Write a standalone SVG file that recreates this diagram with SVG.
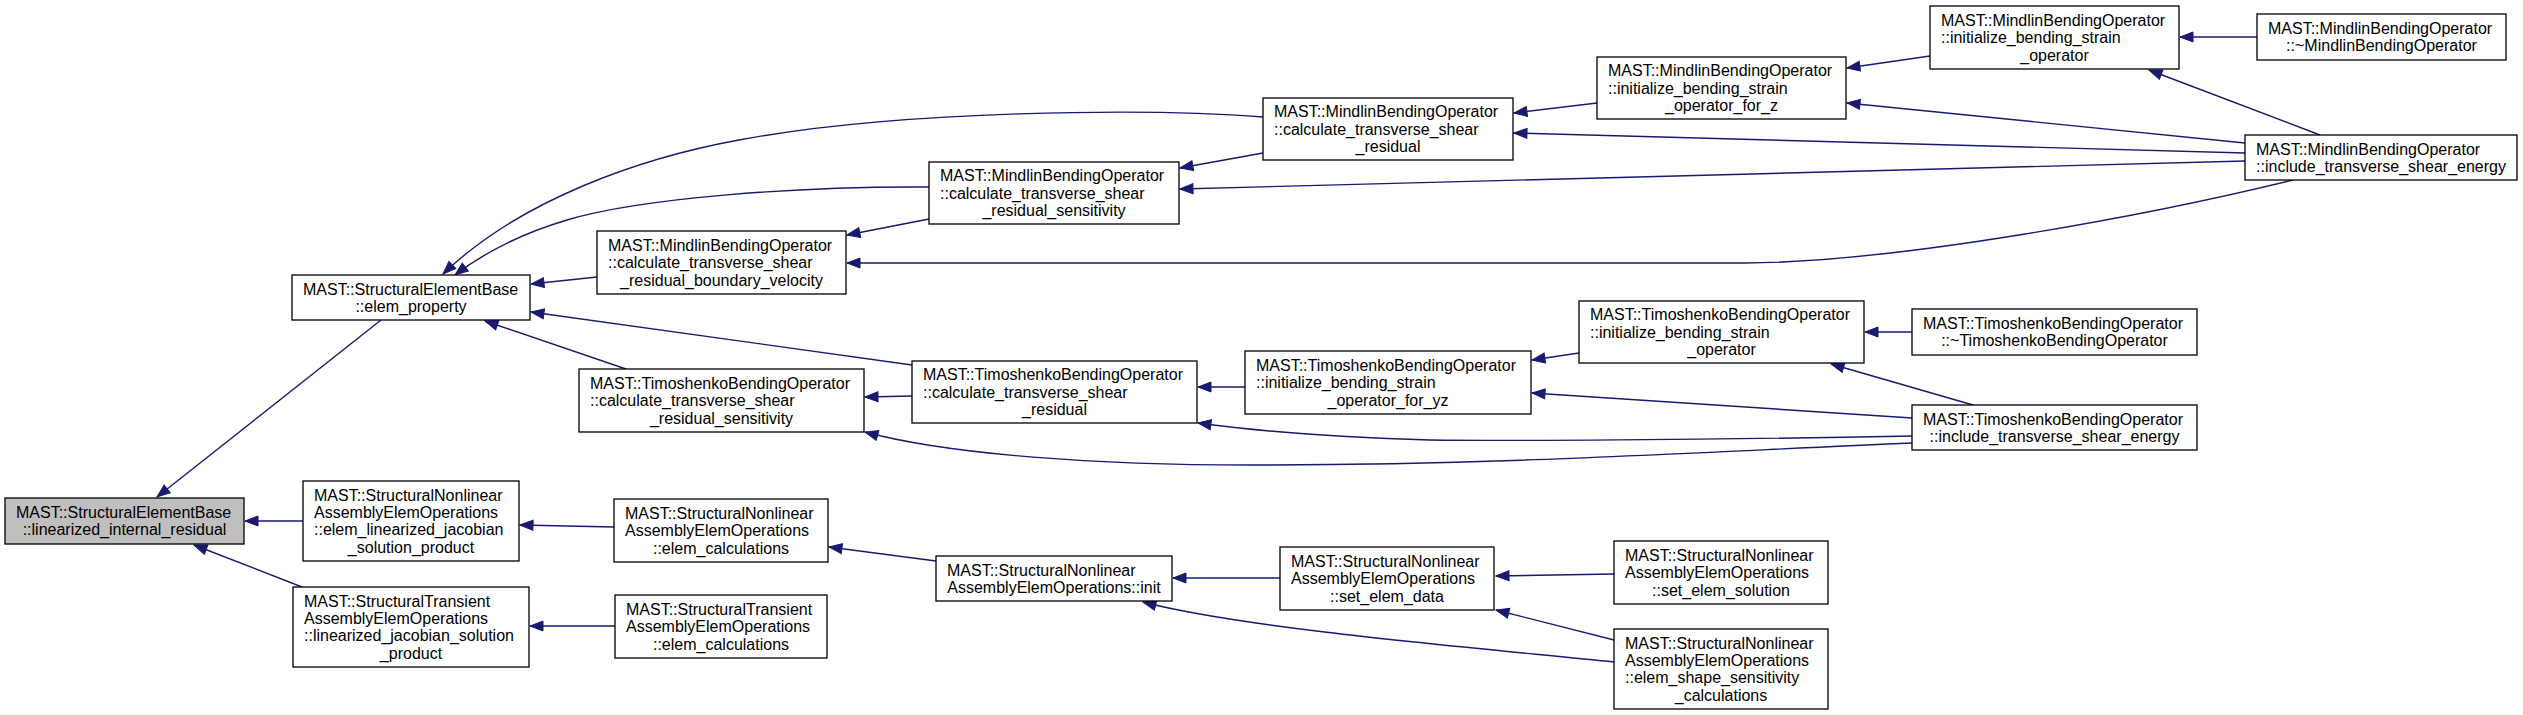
<svg xmlns="http://www.w3.org/2000/svg" width="2523" height="715" viewBox="0 0 2523 715">
<style>
.n rect{fill:#fff;stroke:#000;stroke-width:1.3}
.r rect{fill:#bfbfbf}
text{font-family:"Liberation Sans",Arial,Helvetica,sans-serif;font-size:16px;fill:#000}
.c{text-anchor:middle}
.e path{fill:none;stroke:#191970;stroke-width:1.4;marker-end:url(#a)}
</style>
<defs>
<marker id="a" markerUnits="userSpaceOnUse" markerWidth="15" markerHeight="12" refX="14" refY="6" orient="auto">
<path d="M1,1 L14,6 L1,11 z" fill="#191970" stroke="#191970" stroke-width="1"/>
</marker>
</defs>
<rect width="2523" height="715" fill="#fff"/>
<g id="edges" class="e">
<path d="M381,320 L157,497"/>
<path d="M303,521 L245,521"/>
<path d="M302,587 L194,545"/>
<path d="M597,277 L531,284"/>
<path d="M626,369 L485,321"/>
<path d="M1263,117 C1150,108 900,110 739,140 C640,158 520,200 443,274"/>
<path d="M929,187 C800,186 640,198 567,220 C520,234 485,252 455,275"/>
<path d="M912,365 L531,312"/>
<path d="M929,219 L847,235"/>
<path d="M1263,153 L1180,168"/>
<path d="M1597,103 L1514,113"/>
<path d="M1930,56 L1847,68"/>
<path d="M2245,143 L1847,103"/>
<path d="M2245,153 L1514,133"/>
<path d="M2245,161 L1180,189"/>
<path d="M2293,180 C2150,215 1900,262 1745,263 L847,263"/>
<path d="M2257,37 L2180,37"/>
<path d="M2320,135 L2149,70"/>
<path d="M912,396 L865,397"/>
<path d="M1245,387 L1198,387"/>
<path d="M1579,353 L1532,360"/>
<path d="M1912,332 L1865,332"/>
<path d="M1973,405 L1831,364"/>
<path d="M1912,418 L1532,393"/>
<path d="M1912,436 C1700,440 1500,441 1430,440 C1320,437 1250,430 1198,423"/>
<path d="M1912,443 C1700,452 1500,465 1250,465 C1100,465 950,455 865,432"/>
<path d="M614,527 L520,525"/>
<path d="M615,626 L530,626"/>
<path d="M936,561 L829,547"/>
<path d="M1280,578 L1173,578"/>
<path d="M1614,574 L1496,576"/>
<path d="M1614,640 L1496,610"/>
<path d="M1614,662 C1500,650 1250,630 1143,602"/>
</g>
<g id="n0" class="n r"><rect x="5" y="498" width="239" height="46"/><text x="16" y="518">MAST::StructuralElementBase</text><text class="c" x="124.5" y="535.4">::linearized_internal_residual</text></g>
<g id="n1" class="n"><rect x="292" y="275" width="238" height="45"/><text x="303" y="294.5">MAST::StructuralElementBase</text><text class="c" x="411" y="311.9">::elem_property</text></g>
<g id="n2" class="n"><rect x="303" y="481" width="216" height="80"/><text x="314" y="500.8">MAST::StructuralNonlinear</text><text x="314" y="518">AssemblyElemOperations</text><text x="314" y="535.4">::elem_linearized_jacobian</text><text class="c" x="411" y="552.6">_solution_product</text></g>
<g id="n3" class="n"><rect x="293" y="587" width="236" height="80"/><text x="304" y="606.8">MAST::StructuralTransient</text><text x="304" y="624">AssemblyElemOperations</text><text x="304" y="641.4">::linearized_jacobian_solution</text><text class="c" x="411" y="658.6">_product</text></g>
<g id="n4" class="n"><rect x="597" y="231" width="249" height="63"/><text x="608" y="250.9">MAST::MindlinBendingOperator</text><text x="608" y="268.2">::calculate_transverse_shear</text><text class="c" x="721.5" y="285.5">_residual_boundary_velocity</text></g>
<g id="n5" class="n"><rect x="579" y="369" width="285" height="63"/><text x="590" y="388.9">MAST::TimoshenkoBendingOperator</text><text x="590" y="406.2">::calculate_transverse_shear</text><text class="c" x="721.5" y="423.5">_residual_sensitivity</text></g>
<g id="n6" class="n"><rect x="929" y="162" width="250" height="62"/><text x="940" y="181.4">MAST::MindlinBendingOperator</text><text x="940" y="198.7">::calculate_transverse_shear</text><text class="c" x="1054" y="216">_residual_sensitivity</text></g>
<g id="n7" class="n"><rect x="1263" y="98" width="250" height="62"/><text x="1274" y="117.4">MAST::MindlinBendingOperator</text><text x="1274" y="134.7">::calculate_transverse_shear</text><text class="c" x="1388" y="152">_residual</text></g>
<g id="n8" class="n"><rect x="912" y="361" width="285" height="62"/><text x="923" y="380.4">MAST::TimoshenkoBendingOperator</text><text x="923" y="397.7">::calculate_transverse_shear</text><text class="c" x="1054.5" y="415">_residual</text></g>
<g id="n9" class="n"><rect x="1597" y="57" width="249" height="62"/><text x="1608" y="76.4">MAST::MindlinBendingOperator</text><text x="1608" y="93.7">::initialize_bending_strain</text><text class="c" x="1721.5" y="111">_operator_for_z</text></g>
<g id="n10" class="n"><rect x="1930" y="6" width="249" height="63"/><text x="1941" y="25.9">MAST::MindlinBendingOperator</text><text x="1941" y="43.2">::initialize_bending_strain</text><text class="c" x="2054.5" y="60.5">_operator</text></g>
<g id="n11" class="n"><rect x="2245" y="135" width="272" height="45"/><text x="2256" y="154.5">MAST::MindlinBendingOperator</text><text class="c" x="2381" y="171.9">::include_transverse_shear_energy</text></g>
<g id="n12" class="n"><rect x="2257" y="14" width="249" height="46"/><text x="2268" y="34">MAST::MindlinBendingOperator</text><text class="c" x="2381.5" y="51.4">::~MindlinBendingOperator</text></g>
<g id="n13" class="n"><rect x="1245" y="351" width="286" height="63"/><text x="1256" y="370.9">MAST::TimoshenkoBendingOperator</text><text x="1256" y="388.2">::initialize_bending_strain</text><text class="c" x="1388" y="405.5">_operator_for_yz</text></g>
<g id="n14" class="n"><rect x="1579" y="301" width="285" height="62"/><text x="1590" y="320.4">MAST::TimoshenkoBendingOperator</text><text x="1590" y="337.7">::initialize_bending_strain</text><text class="c" x="1721.5" y="355">_operator</text></g>
<g id="n15" class="n"><rect x="1912" y="405" width="285" height="45"/><text x="1923" y="424.5">MAST::TimoshenkoBendingOperator</text><text class="c" x="2054.5" y="441.9">::include_transverse_shear_energy</text></g>
<g id="n16" class="n"><rect x="1912" y="309" width="285" height="46"/><text x="1923" y="329">MAST::TimoshenkoBendingOperator</text><text class="c" x="2054.5" y="346.4">::~TimoshenkoBendingOperator</text></g>
<g id="n17" class="n"><rect x="614" y="499" width="214" height="63"/><text x="625" y="518.9">MAST::StructuralNonlinear</text><text x="625" y="536.2">AssemblyElemOperations</text><text class="c" x="721" y="553.5">::elem_calculations</text></g>
<g id="n18" class="n"><rect x="615" y="595" width="212" height="63"/><text x="626" y="614.9">MAST::StructuralTransient</text><text x="626" y="632.2">AssemblyElemOperations</text><text class="c" x="721" y="649.5">::elem_calculations</text></g>
<g id="n19" class="n"><rect x="936" y="556" width="236" height="45"/><text x="947" y="575.5">MAST::StructuralNonlinear</text><text class="c" x="1054" y="592.9">AssemblyElemOperations::init</text></g>
<g id="n20" class="n"><rect x="1280" y="547" width="214" height="63"/><text x="1291" y="566.9">MAST::StructuralNonlinear</text><text x="1291" y="584.2">AssemblyElemOperations</text><text class="c" x="1387" y="601.5">::set_elem_data</text></g>
<g id="n21" class="n"><rect x="1614" y="541" width="214" height="63"/><text x="1625" y="560.9">MAST::StructuralNonlinear</text><text x="1625" y="578.2">AssemblyElemOperations</text><text class="c" x="1721" y="595.5">::set_elem_solution</text></g>
<g id="n22" class="n"><rect x="1614" y="629" width="214" height="80"/><text x="1625" y="648.8">MAST::StructuralNonlinear</text><text x="1625" y="666">AssemblyElemOperations</text><text x="1625" y="683.4">::elem_shape_sensitivity</text><text class="c" x="1721" y="700.6">_calculations</text></g>
</svg>
